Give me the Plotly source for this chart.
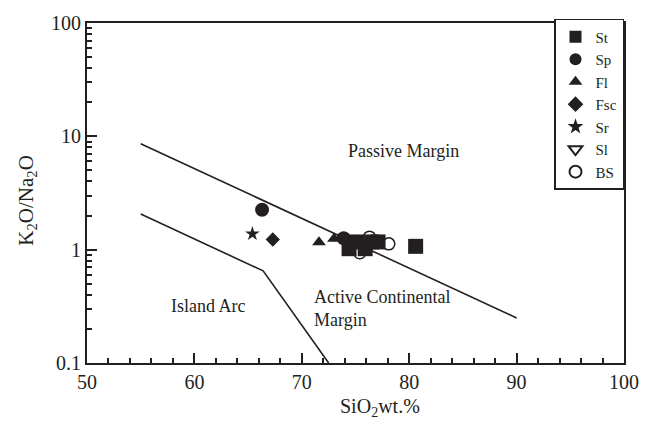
import plotly.graph_objects as go

# SiO2 (wt.%) and K2O/Na2O for each sample group
st_x = [74.4, 75.1, 75.9, 76.5, 77.1, 80.6]
st_y = [1.02, 1.17, 1.02, 1.17, 1.17, 1.07]
sp_x = [66.3, 73.9]
sp_y = [2.25, 1.26]
fl_x = [71.6, 73.0]
fl_y = [1.16, 1.25]
fsc_x = [67.3]
fsc_y = [1.23]
sr_x = [65.4]
sr_y = [1.38]
sl_x = [75.5]
sl_y = [1.12]
bs_x = [76.3, 78.1, 75.4]
bs_y = [1.29, 1.125, 0.94]

# Tectonic-setting boundaries (Roser & Korsch style)
pm_acm_x = [55, 90]
pm_acm_y = [8.6, 0.25]
acm_ia_x = [55, 66.4, 72.5]
acm_ia_y = [2.06, 0.65, 0.1]

x_major = [50, 60, 70, 80, 90, 100]
x_minor = [v for v in range(50, 101, 2) if v % 10]
y_major = [0.1, 1, 10, 100]
y_major_text = ["0.1", "1", "10", "100"]
y_minor = [m * d for d in (0.1, 1, 10) for m in range(2, 10)]

INK = "#231f20"
FONT = "Liberation Serif, Times New Roman, serif"

fig = go.Figure()

for xs, ys in ((pm_acm_x, pm_acm_y), (acm_ia_x, acm_ia_y)):
    fig.add_trace(go.Scatter(x=xs, y=ys, mode="lines", showlegend=False,
                             hoverinfo="skip", line=dict(color=INK, width=1.6)))

groups = [
    ("BS", bs_x, bs_y, "circle-open", 12, 7),
    ("Sl", sl_x, sl_y, "triangle-down-open", 11, 6),
    ("St", st_x, st_y, "square", 15, 1),
    ("Sp", sp_x, sp_y, "circle", 14, 2),
    ("Fl", fl_x, fl_y, "triangle-up", 12, 3),
    ("Fsc", fsc_x, fsc_y, "diamond", 11, 4),
    ("Sr", sr_x, sr_y, "star", 11, 5),
]
for name, xs, ys, sym, size, rank in groups:
    fig.add_trace(go.Scatter(
        x=xs, y=ys, mode="markers", name=name, legendrank=rank,
        marker=dict(symbol=sym, size=size, color=INK,
                    line=dict(color=INK, width=1.5 if "open" in sym else 0)),
    ))

label_font = dict(family=FONT, size=18, color=INK)
fig.add_annotation(x=79.5, y=0.867, text="Passive Margin", showarrow=False, font=label_font)
fig.add_annotation(x=61.3, y=-0.496, text="Island Arc", showarrow=False, font=label_font)
fig.add_annotation(x=70.95, y=-0.517, text="Active Continental<br>Margin", showarrow=False,
                   xanchor="left", align="left", font=label_font)

fig.add_annotation(xref="paper", yref="paper", x=0.546, y=-0.13,
                   xanchor="center", yanchor="middle",
                   text="SiO<sub>2</sub>wt.%", showarrow=False,
                   font=dict(family=FONT, size=20, color=INK))
fig.add_annotation(xref="paper", yref="paper", x=-0.112, y=0.48,
                   xanchor="center", yanchor="middle",
                   text="K<sub>2</sub>O/Na<sub>2</sub>O", showarrow=False, textangle=-90,
                   font=dict(family=FONT, size=21, color=INK))

axis_common = dict(showgrid=False, zeroline=False, showline=True, linecolor=INK,
                   linewidth=2, mirror=True, ticks="inside", tickcolor=INK,
                   tickwidth=1.5, ticklen=10,
                   tickfont=dict(family=FONT, size=20, color=INK))

fig.update_xaxes(range=[50, 100], tickvals=x_major,
                 minor=dict(tickvals=x_minor, ticks="inside", ticklen=5,
                            tickcolor=INK, tickwidth=1.5),
                 **axis_common)
fig.update_yaxes(type="log", range=[-1, 2], tickvals=y_major, ticktext=y_major_text,
                 minor=dict(tickvals=y_minor, ticks="inside", ticklen=5,
                            tickcolor=INK, tickwidth=1.5),
                 **axis_common)

fig.update_layout(
    width=653, height=425,
    margin=dict(l=87, r=29, t=17, b=62),
    paper_bgcolor="white", plot_bgcolor="white",
    font=dict(family=FONT, color=INK),
    legend=dict(x=1, y=1.012, xanchor="right", yanchor="top",
                bordercolor=INK, borderwidth=1.5, bgcolor="white",
                font=dict(family=FONT, size=15, color=INK),
                itemsizing="constant"),
)

fig.write_html("out.html")
